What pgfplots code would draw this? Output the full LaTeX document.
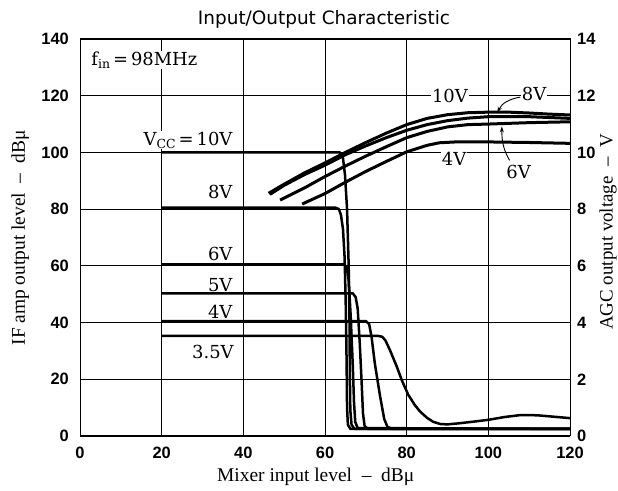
\documentclass[border=0pt]{standalone}
\usepackage{fontspec}
\setmainfont{Liberation Serif}
\newfontfamily\tickfont{Liberation Sans}
\newfontfamily\titlefont{DejaVu Sans}
\newfontfamily\labfont{DejaVu Serif}
\usepackage{pgfplots}
\pgfplotsset{compat=1.18}
\usetikzlibrary{arrows.meta}
\newcommand\sub[1]{\raisebox{-0.35ex}{\fontsize{12.5}{13}\selectfont #1}}
\newcommand\lab{\labfont\fontsize{18}{20}\selectfont}
\begin{document}
\begin{tikzpicture}[x=1bp,y=1bp]
\begin{axis}[
  at={(0,0)}, anchor=south west,
  width=490bp, height=397bp, scale only axis,
  xmin=0, xmax=120, ymin=0, ymax=140,
  xtick={0,20,...,120}, ytick={0,20,...,140},
  grid=major, grid style={black, line width=0.8bp},
  axis line style={black, line width=1bp},
  major tick length=0pt,
  tick label style={font=\tickfont\bfseries\fontsize{16.5}{18}\selectfont},
  yticklabel style={inner sep=0pt, xshift=-11bp},
  xticklabel style={inner sep=0pt, yshift=-11bp},
  /pgf/number format/assume math mode=true,
  cycle list={{black, solid}},
  every axis plot post/.append style={black, solid, line width=2.5bp, line join=round, mark=none},
]
\node[anchor=west, fill=white, inner sep=1bp, font=\lab] at (axis cs:2.5,132.6) {f\sub{in}\,=\,98MHz};
\node[anchor=base east, fill=white, inner sep=0.5bp, font=\lab] at (axis cs:37.5,102.6) {V\sub{CC}\,=\,10V};
\node[anchor=base east, inner sep=0.5bp, font=\lab] at (axis cs:37.5,83.6) {8V};
\node[anchor=base east, inner sep=0.5bp, font=\lab] at (axis cs:37.5,61.8) {6V};
\node[anchor=base east, inner sep=0.5bp, font=\lab] at (axis cs:37.5,51.0) {5V};
\node[anchor=base east, inner sep=0.5bp, font=\lab] at (axis cs:37.5,41.3) {4V};
\node[anchor=base east, inner sep=0.5bp, font=\lab] at (axis cs:37.8,27.4) {3.5V};
% IF amp output, VCC = 10 V
\addplot coordinates {(20,100) (63.6,100) (64.3,99.2) (64.9,92) (65.4,80) (65.8,60) (66.0,40) (66.1,20) (66.2,9) (66.5,4) (67.2,2.5) (120,2.5)};
% 8 V
\addplot coordinates {(20,80.5) (62.6,80.5) (63.4,80) (63.9,78) (64.4,73) (64.8,63) (65.1,45) (65.3,25) (65.4,10) (65.6,4) (66.2,2.5) (120,2.5)};
% 6 V
\addplot coordinates {(20,60.5) (64.6,60.5) (65.3,59.5) (65.8,55) (66.3,42) (66.8,25) (67.1,12) (67.4,5) (68,2.8) (120,2.5)};
% 5 V
\addplot coordinates {(20,50.3) (66.8,50.3) (67.5,49) (68,45) (68.5,33) (69,18) (69.3,8) (69.7,3.5) (70.5,2.5) (120,2.5)};
% 4 V
\addplot coordinates {(20,40.5) (70,40.5) (70.8,39.5) (71.4,35) (72.2,25.6) (73.5,13.9) (74.5,6) (75.3,3.2) (76.5,2.5) (120,2.5)};
% 3.5 V
\addplot coordinates {(20,35.3) (73,35.3) (74,35) (74.8,33.7) (75.9,30.3) (77.6,24.4) (78.8,19.7) (80.4,14.5) (82,10.9) (83.3,8.6) (85,6.4) (86.5,5) (88.3,4.2) (90,4.1) (93,4.5) (96,5) (100,5.7) (104,6.7) (108,7.4) (112,7.3) (116,6.8) (120,6.3)};
\end{axis}
\begin{axis}[
  at={(0,0)}, anchor=south west,
  width=490bp, height=397bp, scale only axis,
  xmin=0, xmax=120, ymin=0, ymax=14,
  axis x line=none, axis y line*=right,
  ytick={0,2,...,14},
  axis line style={black, line width=1bp},
  major tick length=0pt,
  tick label style={font=\tickfont\bfseries\fontsize{16.5}{18}\selectfont},
  yticklabel style={inner sep=0pt, xshift=7bp},
  /pgf/number format/assume math mode=true,
  cycle list={{black, solid}},
  every axis plot post/.append style={black, solid, line width=3bp, line join=round, mark=none},
]
\node[fill=white, inner sep=1bp, font=\lab] at (axis cs:90.6,12.0) {10V};
\node[fill=white, inner sep=1bp, font=\lab] at (axis cs:111.2,12.05) {8V};
\node[fill=white, inner sep=1bp, font=\lab] at (axis cs:91.6,9.79) {4V};
\node[inner sep=1bp, font=\lab] at (axis cs:107.4,9.3) {6V};
\draw[-{Stealth[length=6bp,width=4bp]}, line width=0.9bp] (axis cs:107.8,11.95) to[out=190,in=65] (axis cs:102.2,11.4);
\draw[-{Stealth[length=6bp,width=4bp]}, line width=0.9bp] (axis cs:105.2,9.72) to[out=120,in=-90] (axis cs:103.3,10.92);
% AGC output voltage, VCC = 10 V
\addplot coordinates {(46.2,8.56) (50,8.88) (55,9.28) (60,9.63) (65,10.0) (70,10.35) (75,10.68) (80,10.98) (85,11.2) (90,11.33) (95,11.4) (100,11.42) (105,11.42) (110,11.39) (115,11.35) (120,11.32)};
% 8 V
\addplot coordinates {(46.5,8.52) (50,8.84) (55,9.22) (60,9.55) (65,9.92) (70,10.23) (75,10.52) (80,10.78) (85,10.98) (90,11.12) (95,11.21) (100,11.26) (110,11.26) (120,11.2)};
% 6 V
\addplot coordinates {(49,8.32) (55,8.75) (60,9.15) (65,9.52) (70,9.87) (75,10.2) (80,10.52) (85,10.74) (90,10.9) (95,10.98) (100,11.0) (110,11.05) (120,11.08)};
% 4 V
\addplot coordinates {(54.4,8.18) (60,8.55) (65,8.95) (70,9.33) (75,9.68) (80,10.02) (85,10.25) (88,10.34) (92,10.37) (100,10.37) (110,10.35) (120,10.32)};
\end{axis}
\node[anchor=base, inner sep=0pt, font=\titlefont\fontsize{18.5}{20}\selectfont] at (244,411) {Input/Output Characteristic};
\node[anchor=base west, inner sep=0pt, font=\fontsize{19.5}{21}\selectfont] at (137,-45.5) {Mixer input level\enspace–\enspace dBμ};
\node[anchor=base, rotate=90, inner sep=0pt, font=\fontsize{19.5}{21}\selectfont] at (-55,198) {IF amp output level\enspace–\enspace dBμ};
\node[anchor=base, rotate=90, inner sep=0pt, font=\fontsize{19}{21}\selectfont] at (532.5,204) {AGC output voltage\enspace–\enspace V};
\pgfresetboundingbox
\path[use as bounding box] (-80,-55) rectangle (538,436);
\end{tikzpicture}
\end{document}
